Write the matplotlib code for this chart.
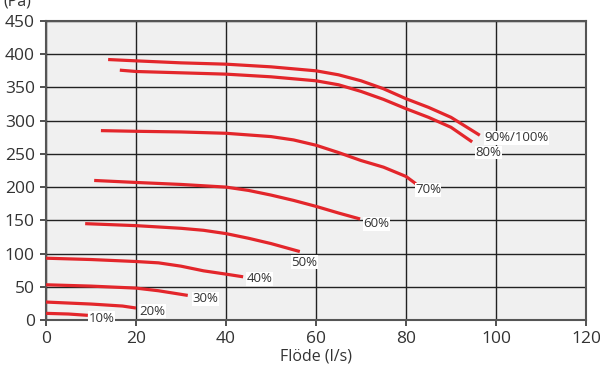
import matplotlib.pyplot as plt
import numpy as np

plt.rcParams['font.family'] = ['Open Sans', 'DejaVu Sans']

# kurvor (flöde l/s, tryck Pa) per varvtal
x_100 = [13.8, 20, 30, 40, 50, 60, 65, 70, 75, 80, 85, 90, 96.4]
y_100 = [392, 390, 387, 385, 381, 375, 369, 360, 348, 333, 320, 305, 278]
x_80 = [16.4, 20, 30, 40, 50, 60, 65, 70, 75, 80, 85, 90, 94.7]
y_80 = [376, 374, 372, 370, 366, 360, 354, 344, 332, 318, 305, 290, 268]
x_70 = [12.2, 20, 30, 40, 50, 55, 60, 65, 70, 75, 80, 82.2]
y_70 = [285, 284, 283, 281, 276, 271, 263, 252, 240, 230, 216, 205]
x_60 = [10.7, 20, 30, 40, 45, 50, 55, 60, 65, 69.8]
y_60 = [210, 207, 204, 200, 195, 188, 180, 171, 161, 152]
x_50 = [8.7, 20, 30, 35, 40, 45, 50, 56.4]
y_50 = [145, 142, 138, 135, 130, 123, 115, 103]
x_40 = [0, 10, 20, 25, 30, 35, 40, 43.8]
y_40 = [93, 91, 88, 86, 81, 74, 69, 65]
x_30 = [0, 10, 20, 25, 31.5]
y_30 = [53, 51, 48, 44, 37]
x_20 = [0, 10, 17, 20]
y_20 = [27, 24, 21, 18]
x_10 = [0, 5, 9.3]
y_10 = [10, 9, 7]

curves = [(x_100, y_100), (x_80, y_80), (x_70, y_70), (x_60, y_60), (x_50, y_50),
          (x_40, y_40), (x_30, y_30), (x_20, y_20), (x_10, y_10)]

# etiketter
labels = ['90%/100%', '80%', '70%', '60%', '50%', '40%', '30%', '20%', '10%']
label_x = [97.5, 95.5, 82.0, 70.5, 54.5, 44.5, 32.5, 20.7, 9.5]
label_y = [274, 252, 196, 145, 87, 62, 32, 13, 3]

fig = plt.figure(figsize=(6, 3.65), dpi=100)
ax = fig.add_axes([0.0767, 0.1233, 0.9, 0.8192])
ax.set_facecolor('#f0f0f0')

for xs, ys in curves:
    ax.plot(xs, ys, color='#e3262b', lw=2.3, solid_capstyle='butt', zorder=3)

for lab, lx, ly in zip(labels, label_x, label_y):
    ax.text(lx, ly, lab, fontsize=9.5, color='#333333', ha='left', va='center', zorder=4,
            bbox=dict(facecolor='white', edgecolor='none', pad=0.3))

ax.set_xlim(0, 120)
ax.set_ylim(0, 450)
ax.set_xticks(np.arange(0, 121, 20))
ax.set_yticks(np.arange(0, 451, 50))
ax.grid(True, color='#222222', lw=1)
ax.set_axisbelow(True)
for s in ax.spines.values():
    s.set_color('#555555')
    s.set_linewidth(1.5)
ax.tick_params(colors='#333333', labelsize=12.5, length=4, width=1.2, pad=4)
ax.set_xlabel('Flöde (l/s)', fontsize=11.5, color='#333333', labelpad=1)
fig.text(0.005, 0.995, '(Pa)', fontsize=11.5, color='#333333', ha='left', va='center')

fig.savefig('out.png', dpi=100)
